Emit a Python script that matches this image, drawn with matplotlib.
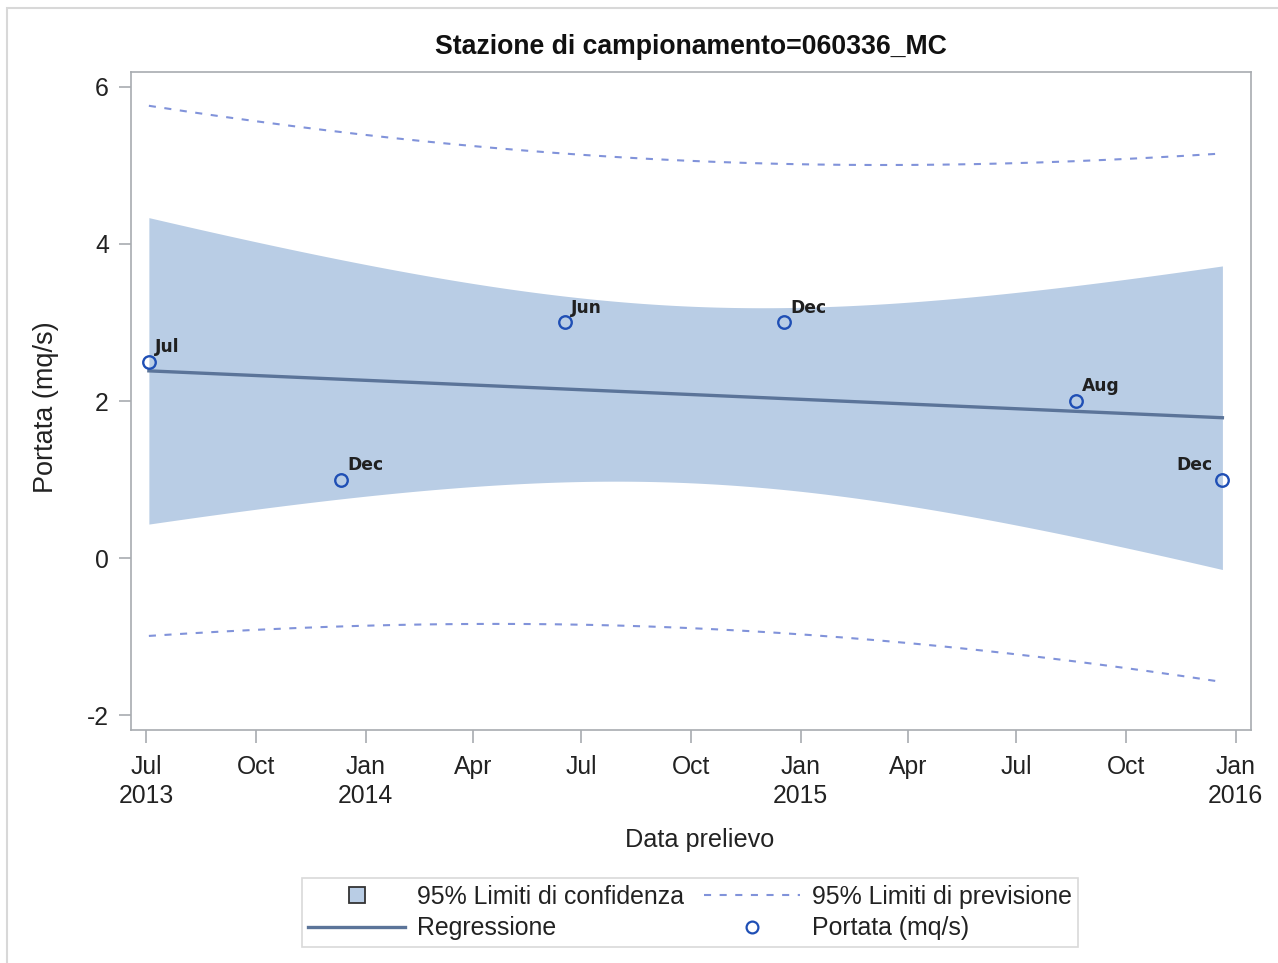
import datetime as dt
import matplotlib
matplotlib.use('Agg')
import matplotlib.pyplot as plt
import matplotlib.dates as mdates
from matplotlib.lines import Line2D
from matplotlib.patches import Rectangle
import numpy as np

# sampling dates and flow values
sample_dates = [dt.date(2013, 7, 3), dt.date(2013, 12, 11), dt.date(2014, 6, 17),
                dt.date(2014, 12, 18), dt.date(2015, 8, 20), dt.date(2015, 12, 21)]
portata = [2.5, 1.0, 3.0, 3.0, 2.0, 1.0]
point_labels = ['Jul', 'Dec', 'Jun', 'Dec', 'Aug', 'Dec']

tick_dates = [dt.date(2013, 7, 1), dt.date(2013, 10, 1), dt.date(2014, 1, 1), dt.date(2014, 4, 1),
              dt.date(2014, 7, 1), dt.date(2014, 10, 1), dt.date(2015, 1, 1), dt.date(2015, 4, 1),
              dt.date(2015, 7, 1), dt.date(2015, 10, 1), dt.date(2016, 1, 1)]
tick_labels = ['Jul\n2013', 'Oct', 'Jan\n2014', 'Apr', 'Jul', 'Oct', 'Jan\n2015', 'Apr', 'Jul', 'Oct', 'Jan\n2016']
y_ticks = [-2, 0, 2, 4, 6]
y_tick_labels = ['-2', '0', '2', '4', '6']

t_crit = 2.776  # t(0.975, n-2=4)

band_color = '#B9CDE5'
reg_color = '#5B7499'
pred_color = '#8193DA'
point_color = '#1F4FB5'
frame_gray = '#A8ACB0'
text_color = '#222222'

plt.rcParams['font.family'] = ['Liberation Sans', 'DejaVu Sans']

# linear fit with confidence / prediction limits
x = mdates.date2num(sample_dates)
y = np.array(portata)
n = len(x)
slope, intercept = np.polyfit(x, y, 1)
resid = y - (slope * x + intercept)
s = np.sqrt(np.sum(resid ** 2) / (n - 2))
sxx = np.sum((x - x.mean()) ** 2)
xs = np.linspace(x.min(), x.max(), 300)
fit = slope * xs + intercept
se_mean = s * np.sqrt(1.0 / n + (xs - x.mean()) ** 2 / sxx)
se_pred = s * np.sqrt(1.0 + 1.0 / n + (xs - x.mean()) ** 2 / sxx)

fig = plt.figure(figsize=(12.78, 9.63), dpi=100)
ax = fig.add_axes([131 / 1278, 1 - 730 / 963, 1120 / 1278, 658 / 963])

ax.fill_between(xs, fit - t_crit * se_mean, fit + t_crit * se_mean, color=band_color, linewidth=0)
ax.plot(xs, fit, color=reg_color, linewidth=2.4)
ax.plot(xs, fit + t_crit * se_pred, color=pred_color, linewidth=1.5, dashes=(3.4, 4.1))
ax.plot(xs, fit - t_crit * se_pred, color=pred_color, linewidth=1.5, dashes=(3.4, 4.1))
ax.plot(x, y, linestyle='none', marker='o', markersize=9, markerfacecolor='none',
        markeredgecolor=point_color, markeredgewidth=1.7)

for i, lab in enumerate(point_labels):
    if i == len(point_labels) - 1:
        ax.annotate(lab, (x[i], y[i]), xytext=(-7, 7), textcoords='offset points',
                    ha='right', va='baseline', fontsize=12.3, fontweight='bold', color='#202020',
                    family='DejaVu Sans')
    else:
        ax.annotate(lab, (x[i], y[i]), xytext=(4.5, 7), textcoords='offset points',
                    ha='left', va='baseline', fontsize=12.3, fontweight='bold', color='#202020',
                    family='DejaVu Sans')

ax.set_xlim(mdates.date2num(dt.date(2013, 6, 18)), mdates.date2num(dt.date(2016, 1, 14)))
ax.set_ylim(-2.19, 6.19)
ax.set_xticks(mdates.date2num(tick_dates))
ax.set_xticklabels(tick_labels, linespacing=1.28)
ax.set_yticks(y_ticks)
ax.set_yticklabels(y_tick_labels)
ax.tick_params(axis='both', labelsize=17.8, color=frame_gray, length=9, width=1.2, labelcolor=text_color)
ax.tick_params(axis='x', pad=9)
ax.tick_params(axis='y', pad=7)
for sp in ax.spines.values():
    sp.set_color(frame_gray)
    sp.set_linewidth(1.2)

ax.set_title('Stazione di campionamento=060336_MC', fontsize=19.2, fontweight='bold', pad=13, color='#111111')
ax.set_ylabel('Portata (mq/s)', fontsize=19.5, color=text_color)
ax.yaxis.set_label_coords(-0.064, 0.49)
ax.set_xlabel('Data prelievo', fontsize=18.2, color=text_color)
ax.xaxis.set_label_coords(0.508, -0.149)

handles = [
    Line2D([], [], linestyle='none', marker='s', markersize=11, markerfacecolor=band_color,
           markeredgecolor='#333333', markeredgewidth=1.3),
    Line2D([], [], color=reg_color, linewidth=2.4),
    Line2D([], [], color=pred_color, linewidth=1.5, dashes=(3.4, 4.1)),
    Line2D([], [], linestyle='none', marker='o', markersize=8.5, markerfacecolor='none',
           markeredgecolor=point_color, markeredgewidth=1.6),
]
labels = ['95% Limiti di confidenza', 'Regressione', '95% Limiti di previsione', 'Portata (mq/s)']
leg = fig.legend(handles, labels, ncol=2, loc='upper center', bbox_to_anchor=(690 / 1278, 1 - 878 / 963),
                 fontsize=17.9, frameon=True, fancybox=False, handlelength=3.9, handletextpad=0.45,
                 columnspacing=0.8, labelspacing=0.3, borderpad=0.28, borderaxespad=0)
leg.get_frame().set_edgecolor('#D0D0D0')
leg.get_frame().set_linewidth(1.2)
for t in leg.get_texts():
    t.set_color(text_color)

# outer frame of the graph area
fig.patches.append(Rectangle((7 / 1278, -0.05), 1.2, 1 - 8 / 963 + 0.05, transform=fig.transFigure,
                             fill=False, edgecolor='#D8D8D8', linewidth=1.5))

fig.savefig('out.png', dpi=100)
